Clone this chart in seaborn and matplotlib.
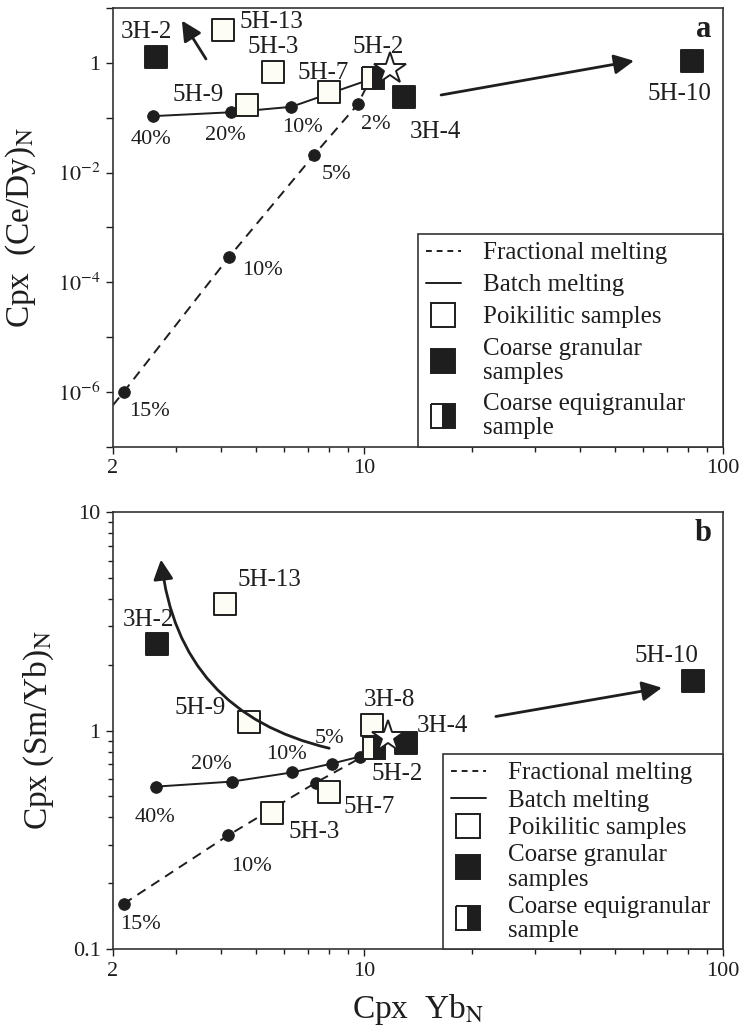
import matplotlib
matplotlib.use('Agg')
import matplotlib.pyplot as plt
from matplotlib.lines import Line2D
from matplotlib.ticker import FixedLocator, FixedFormatter, NullLocator
import seaborn as sns
import pandas as pd
import numpy as np

#       ***Data***
# panel a : Cpx (Ce/Dy)N vs Cpx YbN
a_batch_pct = ['40%', '20%', '10%']
a_batch_x = [2.58, 4.27, 6.27]
a_batch_y = [0.107, 0.126, 0.158]
a_frac_pct = ['15%', '10%', '5%', '2%']
a_frac_x = [2.14, 4.21, 7.26, 9.62]
a_frac_y = [1.0e-6, 2.9e-4, 0.021, 0.177]
a_frac_tail = (2.0, 5.8e-7)
a_source = (10.4, 0.50)

a_names = ['3H-2', '5H-13', '5H-3', '5H-9', '5H-7', '3H-4', '5H-10', '5H-2']
a_x = [2.64, 4.04, 5.58, 4.72, 7.99, 12.9, 82.0, 10.6]
a_y = [1.29, 4.0, 0.68, 0.17, 0.29, 0.24, 1.09, 0.53]
a_kind = ['coarse', 'poik', 'poik', 'poik', 'poik', 'coarse', 'coarse', 'equi']
a_star = (11.8, 0.78)
a_arrow_tail = [(3.63, 1.18), (16.4, 0.26)]
a_arrow_head = [(3.11, 5.9), (56.5, 1.09)]

# panel b : Cpx (Sm/Yb)N vs Cpx YbN
b_batch_pct = ['40%', '20%', '10%', '5%', '']
b_batch_x = [2.64, 4.29, 6.3, 8.14, 9.75]
b_batch_y = [0.554, 0.584, 0.643, 0.706, 0.76]
b_frac_pct = ['15%', '10%', '']
b_frac_x = [2.14, 4.18, 7.35]
b_frac_y = [0.161, 0.331, 0.578]
b_source = (10.5, 0.80)

b_names = ['3H-2', '5H-13', '5H-9', '5H-3', '5H-7', '3H-8', '3H-4', '5H-10', '5H-2']
b_x = [2.65, 4.10, 4.79, 5.55, 8.0, 10.5, 13.1, 82.4, 10.66]
b_y = [2.50, 3.81, 1.09, 0.42, 0.526, 1.065, 0.88, 1.69, 0.836]
b_kind = ['coarse', 'poik', 'poik', 'poik', 'poik', 'poik', 'coarse', 'coarse', 'equi']
b_star = (11.7, 0.93)
b_arrow_tail = [(8.0, 0.83), (23.3, 1.16)]
b_arrow_head = [(2.72, 6.06), (67.6, 1.57)]

legend_labels = ['Fractional melting', 'Batch melting', 'Poikilitic samples',
                 'Coarse granular\nsamples', 'Coarse equigranular\nsample']

# label offsets in points (dx, dy, ha)
a_name_off = {'3H-2': (-7, 18, 'center'), '5H-13': (12, 6, 'left'), '5H-3': (0, 18, 'center'),
              '5H-9': (-17, 7, 'right'), '5H-7': (-4, 14, 'center'), '5H-2': (4, 22, 'center'),
              '3H-4': (23, -25, 'center'), '5H-10': (-9, -24, 'center')}
b_name_off = {'3H-2': (-6, 17, 'center'), '5H-13': (9, 17, 'left'), '5H-9': (-17, 10, 'right'),
              '3H-8': (13, 18, 'center'), '3H-4': (8, 12, 'left'), '5H-2': (17, -19, 'center'),
              '5H-7': (10, -11, 'left'), '5H-3': (12, -14, 'left'), '5H-10': (-19, 18, 'center')}
a_batch_off = [(-1, -17), (-4, -17), (8, -15)]
a_frac_off = [(19, -14), (24, -10), (16, -14), (13, -15)]
b_batch_off = [(-1, -22), (-15, 12), (-4, 13), (-2, 18), (0, 0)]
b_frac_off = [(12, -15), (17, -22), (0, 0)]

sns.set_theme(style='ticks')
plt.rcParams['font.family'] = ['Liberation Serif', 'DejaVu Serif']
plt.rcParams['mathtext.fontset'] = 'stix'

ink = '#1e1e1e'
cream = '#fdfdf6'

fig = plt.figure(figsize=(7.5, 10.28), dpi=100)
ax_a = fig.add_axes([0.1507, 0.5652, 0.8133, 0.4270])
ax_b = fig.add_axes([0.1507, 0.0768, 0.8133, 0.4251])


def draw_panel(ax, bx, by, bpct, boff, fx, fy, fpct, foff, source, tail,
               names, xs, ys, kinds, name_off, star, tails, heads, curved):
    ax.set_xscale('log')
    ax.set_yscale('log')
    # melting curves
    lx = list(bx) + [source[0]]
    ly = list(by) + [source[1]]
    sns.lineplot(x=lx, y=ly, sort=False, estimator=None, color=ink, lw=1.4, ax=ax, zorder=2)
    fxl = ([tail[0]] if tail else []) + list(fx) + [source[0]]
    fyl = ([tail[1]] if tail else []) + list(fy) + [source[1]]
    sns.lineplot(x=fxl, y=fyl, sort=False, estimator=None, color=ink, lw=1.4,
                 linestyle=(0, (5, 3.5)), ax=ax, zorder=2)
    sns.scatterplot(x=list(bx) + list(fx), y=list(by) + list(fy), marker='o', s=70,
                    color=ink, edgecolor=ink, ax=ax, zorder=3)
    for x, y, t, (dx, dy) in zip(bx, by, bpct, boff):
        if t:
            ax.annotate(t, (x, y), xytext=(dx, dy), textcoords='offset points',
                        ha='center', va='center', fontsize=16, color=ink)
    for x, y, t, (dx, dy) in zip(fx, fy, fpct, foff):
        if t:
            ax.annotate(t, (x, y), xytext=(dx, dy), textcoords='offset points',
                        ha='center', va='center', fontsize=16, color=ink)

    # samples
    df = pd.DataFrame({'name': names, 'x': xs, 'y': ys, 'kind': kinds})
    poik = df[df['kind'] == 'poik']
    coarse = df[df['kind'] == 'coarse']
    equi = df[df['kind'] == 'equi']
    sns.scatterplot(data=poik, x='x', y='y', marker='s', s=256, color=cream,
                    edgecolor=ink, linewidth=1.4, ax=ax, zorder=4)
    sns.scatterplot(data=coarse, x='x', y='y', marker='s', s=256, color=ink,
                    edgecolor=ink, linewidth=1.4, ax=ax, zorder=4)
    ax.plot(equi['x'], equi['y'], ls='none', marker='s', ms=16, fillstyle='left',
            mfc=cream, mfcalt=ink, mec=ink, mew=1.4, zorder=5)
    ax.plot([star[0]], [star[1]], ls='none', marker='*', ms=24, mfc='white',
            mec=ink, mew=1.4, zorder=6)
    for _, r in df.iterrows():
        dx, dy, ha = name_off[r['name']]
        ax.annotate(r['name'], (r['x'], r['y']), xytext=(dx, dy), textcoords='offset points',
                    ha=ha, va='center', fontsize=18, color=ink)

    # arrows
    for i, (t, h) in enumerate(zip(tails, heads)):
        style = 'arc3,rad=-0.35' if (curved and i == 0) else 'arc3'
        ax.annotate('', xy=h, xytext=t,
                    arrowprops=dict(arrowstyle='-|>', color=ink, lw=2, mutation_scale=30,
                                    shrinkA=0, shrinkB=0, connectionstyle=style), zorder=5)

    # x axis
    ax.set_xlim(2, 100)
    ax.xaxis.set_major_locator(FixedLocator([2, 10, 100]))
    ax.xaxis.set_major_formatter(FixedFormatter(['2', '10', '100']))
    ax.xaxis.set_minor_locator(FixedLocator([3, 4, 5, 6, 7, 8, 9, 20, 30, 40, 50, 60, 70, 80, 90]))
    ax.tick_params(axis='both', which='major', direction='out', length=5, width=1,
                   labelsize=16, colors=ink, pad=4)
    ax.tick_params(axis='both', which='minor', direction='out', length=3.5, width=1, colors=ink)
    ax.set_xlabel('')
    for s in ax.spines.values():
        s.set_visible(True)
        s.set_color('#333333')
        s.set_linewidth(1.2)

    handles = [Line2D([], [], color=ink, lw=1.4, linestyle=(0, (3, 2.5))),
               Line2D([], [], color=ink, lw=1.4),
               Line2D([], [], ls='none', marker='s', ms=17, mfc='white', mec=ink, mew=1.4),
               Line2D([], [], ls='none', marker='s', ms=17, mfc=ink, mec=ink, mew=1.4),
               Line2D([], [], ls='none', marker='s', ms=17, fillstyle='left', mfc='white',
                      mfcalt=ink, mec=ink, mew=1.4)]
    return handles


handles = draw_panel(ax_a, a_batch_x, a_batch_y, a_batch_pct, a_batch_off,
                     a_frac_x, a_frac_y, a_frac_pct, a_frac_off, a_source, a_frac_tail,
                     a_names, a_x, a_y, a_kind, a_name_off, a_star,
                     a_arrow_tail, a_arrow_head, False)
draw_panel(ax_b, b_batch_x, b_batch_y, b_batch_pct, b_batch_off,
           b_frac_x, b_frac_y, b_frac_pct, b_frac_off, b_source, None,
           b_names, b_x, b_y, b_kind, b_name_off, b_star,
           b_arrow_tail, b_arrow_head, True)

# y axis panel a
ax_a.set_ylim(1e-7, 10)
a_dec = list(range(-7, 2))
ax_a.yaxis.set_major_locator(FixedLocator([10.0 ** d for d in a_dec]))
a_lab = []
for d in a_dec:
    if d == 0:
        a_lab.append('1')
    elif d in (-2, -4, -6):
        a_lab.append(r'$10^{%d}$' % d)
    else:
        a_lab.append('')
ax_a.yaxis.set_major_formatter(FixedFormatter(a_lab))
ax_a.yaxis.set_minor_locator(NullLocator())
ax_a.set_ylabel(r'Cpx  (Ce/Dy)$_{\mathrm{N}}$', fontsize=24, color=ink, labelpad=14)

# y axis panel b
ax_b.set_ylim(0.1, 10)
ax_b.yaxis.set_major_locator(FixedLocator([0.1, 1, 10]))
ax_b.yaxis.set_major_formatter(FixedFormatter(['0.1', '1', '10']))
ax_b.yaxis.set_minor_locator(FixedLocator([0.2, 0.3, 0.4, 0.5, 0.6, 0.7, 0.8, 0.9,
                                           2, 3, 4, 5, 6, 7, 8, 9]))
ax_b.set_ylabel(r'Cpx (Sm/Yb)$_{\mathrm{N}}$', fontsize=24, color=ink, labelpad=12)
ax_b.set_xlabel(r'Cpx  Yb$_{\mathrm{N}}$', fontsize=24, color=ink, labelpad=8)

for ax, x0, h, sp, letter in [(ax_a, 0.5, 0.524, 0.38, 'a'), (ax_b, 0.541, 0.48, 0.2, 'b')]:
    leg = ax.legend(handles, legend_labels, loc='lower left', bbox_to_anchor=(x0, 0, 1 - x0, h),
                    mode='expand', borderaxespad=0, fontsize=18, frameon=True, fancybox=False,
                    edgecolor='#333333', framealpha=1, handlelength=1.4, handletextpad=0.9,
                    labelspacing=sp, borderpad=0.3)
    leg.get_frame().set_linewidth(1.2)
    for t in leg.get_texts():
        t.set_color(ink)
        t.set_linespacing(1.12)
    ax.text(0.968, 0.95, letter, transform=ax.transAxes, ha='center', va='center',
            fontsize=22, fontweight='bold', color=ink)

fig.savefig('out.png', dpi=100)
